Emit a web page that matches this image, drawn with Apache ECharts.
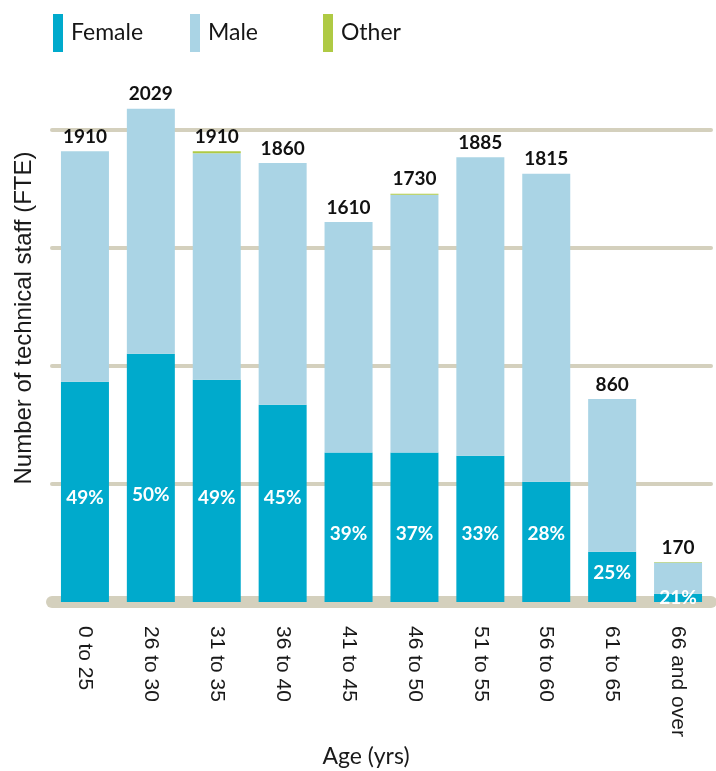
<!DOCTYPE html>
<html>
<head>
<meta charset="utf-8">
<script src="https://cdn.jsdelivr.net/npm/echarts@6/dist/echarts.min.js"></script>
<style>
html,body{margin:0;padding:0;background:#fff;}
#chart{width:716px;height:771px;}
</style>
</head>
<body>
<div id="chart"></div>
<script>
const categories = ['0 to 25','26 to 30','31 to 35','36 to 40','41 to 45','46 to 50','51 to 55','56 to 60','61 to 65','66 and over'];
const female = [933, 1052, 942, 836, 633, 633, 620, 510, 213, 35];
const male   = [977, 1038, 960, 1024, 977, 1093, 1265, 1305, 647, 132];
const other  = [0, 0, 8, 0, 0, 4, 0, 0, 0, 3];
const totalLabels = ['1910','2029','1910','1860','1610','1730','1885','1815','860','170'];
const femaleShare = ['49%','50%','49%','45%','39%','37%','33%','28%','25%','21%'];
const yTicks = [0, 500, 1000, 1500, 2000];

function buildOption() {
  const pctDist = [95, 98, 95, 95, 59, 59, 59, 59, 20, -5];
  const cFemale = '#00aacc', cMale = '#aad4e5', cOther = '#afca44';
  const legendBase = {
    top: 9, icon: 'rect', itemWidth: 10, itemHeight: 38,
    textStyle: {fontFamily: 'Lato', fontSize: 23, color: '#161616', padding: [0,0,0,3]},
    selectedMode: false
  };
  return {
    animation: false,
    legend: [
      Object.assign({}, legendBase, {left: 48, data: ['Female']}),
      Object.assign({}, legendBase, {left: 185, data: ['Male']}),
      Object.assign({}, legendBase, {left: 318, data: ['Other']})
    ],
    grid: {left: 52, right: 5, top: 130, bottom: 169, containLabel: false},
    xAxis: {
      type: 'category', data: categories,
      axisLine: {lineStyle: {color: '#d4d0bd', width: 12, cap: 'round'}},
      axisTick: {show: false},
      axisLabel: {rotate: -90, margin: 24, fontFamily: 'Liberation Sans', fontSize: 21, color: '#1a1a1a'}
    },
    yAxis: {
      type: 'value', min: yTicks[0], max: yTicks[yTicks.length-1], interval: yTicks[1]-yTicks[0],
      axisLine: {show: false}, axisTick: {show: false}, axisLabel: {show: false},
      splitLine: {lineStyle: {color: '#d4d0bd', width: 4, cap: 'round'}}
    },
    graphic: [
      {type: 'text', x: 24, y: 318, rotation: Math.PI/2,
       style: {text: 'Number of technical staff (FTE)', fontFamily: 'Liberation Sans', fontSize: 24, fill: '#1a1a1a',
         align: 'center', verticalAlign: 'middle'}},
      {type: 'text', x: 366, y: 757,
       style: {text: 'Age (yrs)', fontFamily: 'Lato', fontSize: 23, fill: '#1a1a1a', align: 'center', verticalAlign: 'middle'}}
    ],
    series: [
      {name: 'Female', type: 'bar', stack: 'a', barWidth: 48, clip: false,
       itemStyle: {color: cFemale},
       data: female.map((v, i) => ({value: v, label: {show: true, position: 'insideBottom', distance: pctDist[i],
         formatter: femaleShare[i], color: '#fff', fontFamily: 'Lato', fontWeight: 'bold', fontSize: 19}}))},
      {name: 'Male', type: 'bar', stack: 'a', barWidth: 48, clip: false,
       itemStyle: {color: cMale}, data: male},
      {name: 'Other', type: 'bar', stack: 'a', barWidth: 48, clip: false,
       itemStyle: {color: cOther},
       label: {show: true, position: 'top', distance: 5, color: '#111', fontFamily: 'Lato', fontWeight: 'bold', fontSize: 19,
         formatter: p => totalLabels[p.dataIndex]},
       data: other}
    ]
  };
}
const chart = echarts.init(document.getElementById('chart'), null, {renderer: 'canvas'});
chart.setOption(buildOption());
</script>
</body>
</html>
